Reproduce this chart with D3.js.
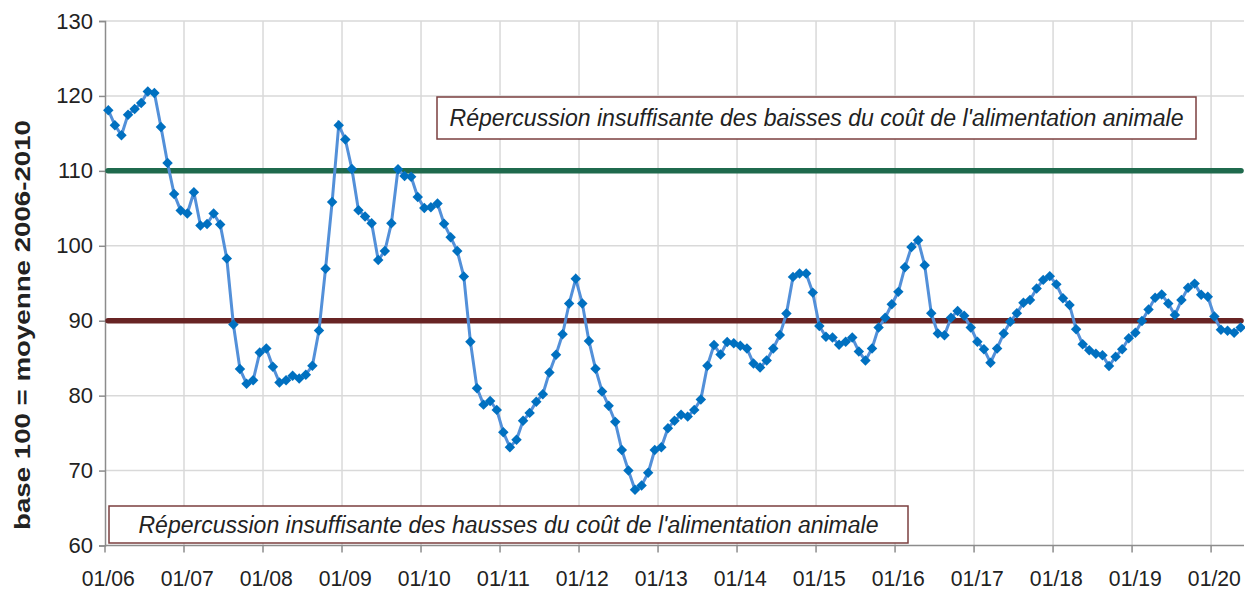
<!DOCTYPE html>
<head>
  <meta charset="utf-8">
  <title>Prix vs coût alimentation animale</title>
  <script src="https://d3js.org/d3.v7.min.js"></script>
  <style>
    body { margin: 0; background: #fff; }
    text { font-family: "Liberation Sans", Arial, sans-serif; fill: #222; }
  </style>
</head>
<body>
  <div id="root"></div>
  <script>
    // monthly index, 01/06 .. 05/20
    var values = [
      118.1, 116.1, 114.75, 117.5, 118.25, 119.05, 120.6, 120.4, 115.85, 111.05, 106.9, 104.7,
      104.3, 107.15, 102.7, 102.9, 104.3, 102.85, 98.3, 89.5, 83.55, 81.6, 82.05, 85.75,
      86.3, 83.85, 81.75, 82.05, 82.65, 82.3, 82.8, 84.0, 88.7, 96.95, 105.85, 116.1,
      114.2, 110.25, 104.75, 103.9, 103.0, 98.1, 99.3, 103.0, 110.2, 109.3, 109.2, 106.5,
      105.05, 105.15, 105.65, 102.95, 101.15, 99.3, 95.9, 87.2, 81.0, 78.8, 79.3, 78.1,
      75.1, 73.1, 74.1, 76.65, 77.7, 79.2, 80.2, 83.1, 85.45, 88.2, 92.3, 95.6,
      92.3, 87.3, 83.6, 80.55, 78.65, 76.5, 72.75, 70.0, 67.45, 68.0, 69.7, 72.75,
      73.1, 75.65, 76.65, 77.45, 77.2, 78.1, 79.5, 84.0, 86.75, 85.5, 87.15, 87.0,
      86.65, 86.3, 84.3, 83.75, 84.7, 86.3, 88.1, 90.95, 95.85, 96.3, 96.3, 93.75,
      89.3, 87.85, 87.75, 86.8, 87.2, 87.75, 85.9, 84.7, 86.3, 89.1, 90.4, 92.2,
      93.85, 97.15, 99.85, 100.75, 97.4, 91.0, 88.3, 88.05, 90.4, 91.3, 90.65, 89.1,
      87.2, 86.2, 84.4, 86.3, 88.3, 89.85, 91.0, 92.4, 92.75, 94.3, 95.45, 95.95,
      94.85, 93.0, 92.1, 88.85, 86.85, 86.05, 85.6, 85.4, 83.95, 85.2, 86.2, 87.65,
      88.4, 89.95, 91.5, 93.05, 93.5, 92.3, 90.75, 92.75, 94.4, 94.95, 93.45, 93.2,
      90.55, 88.8, 88.65, 88.4, 89.1
    ];
    var tickLabels = ["01/06","01/07","01/08","01/09","01/10","01/11","01/12","01/13",
                      "01/14","01/15","01/16","01/17","01/18","01/19","01/20"];
    var yTicks = [60, 70, 80, 90, 100, 110, 120, 130];
    var thresholds = [110, 90];
    var thresholdColors = ["#1f6a4d", "#682424"];
    var notes = [
      "Répercussion insuffisante des baisses du coût de l'alimentation animale",
      "Répercussion insuffisante des hausses du coût de l'alimentation animale"
    ];
    var yTitle = "base 100 = moyenne 2006-2010";

    // category names MM/YY for each month
    var months = values.map(function(v, i) {
      var m = i % 12 + 1, yy = 6 + Math.floor(i / 12);
      return (m < 10 ? "0" + m : m) + "/" + (yy < 10 ? "0" + yy : yy);
    });

    var W = 1245, H = 590;
    var plotL = 105, plotR = 1244, plotT = 21, plotB = 545.5;

    var svg = d3.select("#root").append("svg")
      .attr("width", W).attr("height", H);

    var x = d3.scaleBand().domain(months).range([plotL, plotR]).padding(0);
    var y = d3.scaleLinear().domain([60, 130]).range([plotB, plotT]);
    var cx = function(i) { return x(months[i]) + x.bandwidth() / 2; };

    // gridlines
    svg.append("g").selectAll("line")
      .data(yTicks.slice(1))
      .enter().append("line")
        .attr("x1", plotL).attr("x2", plotR)
        .attr("y1", function(d) { return y(d); }).attr("y2", function(d) { return y(d); })
        .style("stroke", "#d9d9d9").style("stroke-width", 1.5);
    svg.append("g").selectAll("line")
      .data(tickLabels.slice(1))
      .enter().append("line")
        .attr("x1", function(d) { return x(d); }).attr("x2", function(d) { return x(d); })
        .attr("y1", plotT).attr("y2", plotB)
        .style("stroke", "#d9d9d9").style("stroke-width", 1.5);

    // axes
    var yAxis = d3.axisLeft(y).tickValues(yTicks).tickSize(6).tickPadding(6);
    var gy = svg.append("g").attr("transform", "translate(" + plotL + ",0)").call(yAxis);
    gy.attr("font-family", null);
    gy.selectAll("text").style("font-size", "22px").style("fill", "#222");
    gy.selectAll("line, path").style("stroke", "#8c8c8c").style("stroke-width", 1.5);

    var gx = svg.append("g").attr("transform", "translate(0," + plotB + ")");
    gx.append("line").attr("x1", plotL).attr("x2", plotR)
      .style("stroke", "#8c8c8c").style("stroke-width", 1.5);
    gx.selectAll("line.tk").data(tickLabels).enter().append("line")
      .attr("class", "tk")
      .attr("x1", function(d) { return x(d); }).attr("x2", function(d) { return x(d); })
      .attr("y1", 0).attr("y2", 7)
      .style("stroke", "#8c8c8c").style("stroke-width", 1.5);
    gx.selectAll("text").data(tickLabels).enter().append("text")
      .attr("x", function(d) { return x(d) + x.bandwidth() / 2; })
      .attr("y", 40)
      .attr("text-anchor", "middle")
      .attr("textLength", 53).attr("lengthAdjust", "spacingAndGlyphs")
      .style("font-size", "22px")
      .text(function(d) { return d; });

    // y title
    svg.append("text")
      .attr("transform", "translate(30,325) rotate(-90)")
      .attr("text-anchor", "middle")
      .attr("textLength", 410).attr("lengthAdjust", "spacingAndGlyphs")
      .style("font-size", "22px").style("font-weight", "bold")
      .text(yTitle);

    // threshold lines
    svg.selectAll("line.thr").data(thresholds).enter().append("line")
      .attr("class", "thr")
      .attr("x1", plotL + 3).attr("x2", plotR - 3)
      .attr("y1", function(d) { return y(d); }).attr("y2", function(d) { return y(d); })
      .style("stroke", function(d, i) { return thresholdColors[i]; })
      .style("stroke-width", 5.5)
      .style("stroke-linecap", "round");

    // series
    var line = d3.line()
      .x(function(d, i) { return cx(i); })
      .y(function(d) { return y(d); });
    svg.append("path").datum(values)
      .attr("d", line)
      .style("fill", "none").style("stroke", "#5390d9").style("stroke-width", 3);

    svg.append("g").selectAll("path").data(values).enter().append("path")
      .attr("d", d3.symbol().type(d3.symbolDiamond2).size(70))
      .attr("transform", function(d, i) { return "translate(" + cx(i) + "," + y(d) + ")"; })
      .style("fill", "#0070c0");

    // annotation boxes
    var boxes = [
      { x: 437, y: 97, w: 759, h: 42, len: 734 },
      { x: 109, y: 506, w: 799, h: 37, len: 740 }
    ];
    boxes.forEach(function(b, i) {
      svg.append("rect")
        .attr("x", b.x).attr("y", b.y).attr("width", b.w).attr("height", b.h)
        .style("fill", "#fff").style("stroke", "#7b3f3f").style("stroke-width", 1.5);
      svg.append("text")
        .attr("x", b.x + b.w / 2).attr("y", b.y + b.h / 2 + 8)
        .attr("text-anchor", "middle")
        .attr("textLength", b.len).attr("lengthAdjust", "spacingAndGlyphs")
        .style("font-size", "23px").style("font-style", "italic")
        .text(notes[i]);
    });
  </script>
</body>
